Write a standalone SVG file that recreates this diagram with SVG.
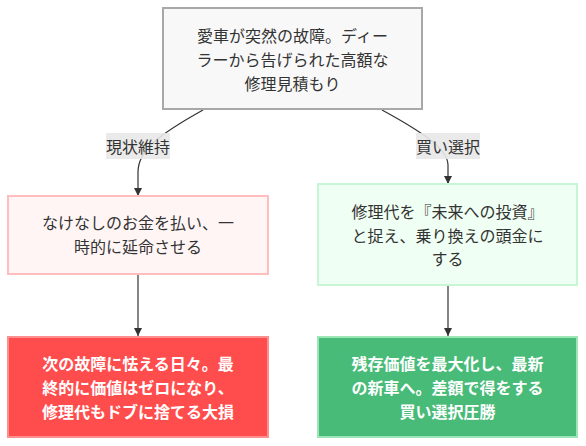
<svg xmlns="http://www.w3.org/2000/svg" width="586" height="446" viewBox="0 0 586 446">
<defs>
<style>
text{font-family:"Noto Sans CJK JP","Noto Sans",sans-serif;font-size:16px;fill:#333;text-anchor:middle;dominant-baseline:central}
.w{fill:#fff;font-weight:bold}
.edge{fill:none;stroke:#333;stroke-width:1.2}
.lbl{fill:#e8e8e8;opacity:0.9}
</style>
<marker id="arr" viewBox="0 0 10 10" refX="10" refY="5" markerWidth="8" markerHeight="8" markerUnits="userSpaceOnUse" orient="auto">
<path d="M0,0 L10,5 L0,10 z" fill="#333"/>
</marker>
</defs>
<rect width="586" height="446" fill="#fff"/>
<g id="connectors">
<path class="edge" d="M203,110 C160,134 138,150 138,172 L138,196" marker-end="url(#arr)"/>
<path class="edge" d="M382,110 C426,134 448,150 448,165 L448,184" marker-end="url(#arr)"/>
<path class="edge" d="M138,274 L138,336" marker-end="url(#arr)"/>
<path class="edge" d="M448,285 L448,336" marker-end="url(#arr)"/>
<g id="label1"><rect class="lbl" x="106" y="133" width="64" height="26"/><text x="138" y="146">現状維持</text></g>
<g id="label2"><rect class="lbl" x="416" y="133" width="64" height="26"/><text x="448" y="146">買い選択</text></g>
</g>
<g id="start">
<rect x="163" y="8" width="259" height="101" fill="#f8f8f8" stroke="#a8a8a8" stroke-width="2"/>
<text x="292.5" y="35">愛車が突然の故障。ディー</text>
<text x="292.5" y="59">ラーから告げられた高額な</text>
<text x="292.5" y="83">修理見積もり</text>
</g>
<g id="keep">
<rect x="8" y="196" width="260" height="78" fill="#fff5f5" stroke="#ffbdbd" stroke-width="2"/>
<text x="138" y="222">なけなしのお金を払い、一</text>
<text x="138" y="246">時的に延命させる</text>
</g>
<g id="buy">
<rect x="318" y="184" width="259" height="101" fill="#f0fff4" stroke="#c6f6d5" stroke-width="2"/>
<text x="447.5" y="211">修理代を『未来への投資』</text>
<text x="447.5" y="234.5">と捉え、乗り換えの頭金に</text>
<text x="447.5" y="258">する</text>
</g>
<g id="bad">
<rect x="8" y="337" width="260" height="100" fill="#ff4d4d" stroke="#ff8f8f" stroke-width="2"/>
<text class="w" x="138" y="362.5">次の故障に怯える日々。最</text>
<text class="w" x="138" y="386.5">終的に価値はゼロになり、</text>
<text class="w" x="138" y="410.5">修理代もドブに捨てる大損</text>
</g>
<g id="good">
<rect x="318" y="337" width="259" height="100" fill="#48bb78" stroke="#9ae6b4" stroke-width="2"/>
<text class="w" x="447.5" y="362.5">残存価値を最大化し、最新</text>
<text class="w" x="447.5" y="386.5">の新車へ。差額で得をする</text>
<text class="w" x="447.5" y="410.5">買い選択圧勝</text>
</g>
</svg>
